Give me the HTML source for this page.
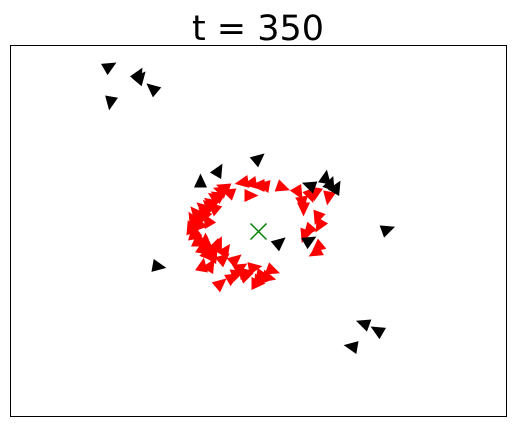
<!DOCTYPE html>
<html><head><meta charset="utf-8"><style>
html,body{margin:0;padding:0;background:#fff;}
svg{display:block;font-family:"DejaVu Sans","Liberation Sans",sans-serif;}
</style></head><body>
<svg id="chart" width="515" height="426">
<text x="258" y="40" text-anchor="middle" font-size="35">t = 350</text>
<rect x="10.5" y="45.5" width="496" height="371" fill="none" stroke="#000" stroke-width="1"/>
<g id="marks"></g>
</svg>
<script>
// positions in plot units (0..496 horizontal, 0..371 vertical from top)
const blackX=[99,128,130,142,100,248,208,190,299,315,320,326,269,299,148,377,353,367,341];
const blackY=[21,29,32,43,57,113,125,136,140,132,138,142,197,195,221,184,278,285,301];
const blackA=[-30,-60,-50,220,100,-40,-60,-90,200,-80,-70,-60,-40,-30,10,-20,200,210,190];
const redX=[232,240,248,253,240,272,288,292,293,305,318,307,298,307,305,213,207,200,192,185,182,180,183,187,192,197,203,213,192,200,210,222,227,235,247,252,262,193,188,197,203,218,195,205,210,204,198,190,186,184,188,196,202,208,215,225,230,236,244,250,258,300,309,294];
const redY=[137,138,140,140,150,142,147,157,163,148,152,172,185,202,207,142,150,157,162,167,173,182,188,195,202,207,210,213,220,220,238,232,228,227,238,230,225,168,178,175,162,147,195,200,145,152,160,170,176,186,192,198,205,198,205,214,222,230,222,235,232,150,180,190];
const redA=[170,170,180,190,0,20,60,80,90,100,100,110,130,140,150,200,210,215,220,230,240,250,260,270,280,290,300,320,280,300,320,330,340,350,0,10,20,230,250,240,220,200,270,290,200,215,225,235,245,255,265,275,285,295,305,320,330,340,350,5,15,70,120,110];
const xs=v=>10.5+v, ys=v=>45.5+v;
const g=document.getElementById('marks');
const NS='http://www.w3.org/2000/svg';
function tri(x,y,a,color,name){
  const p=document.createElementNS(NS,'polygon');
  p.setAttribute('points','8,0 -6,-6.5 -6,6.5');
  p.setAttribute('fill',color);
  p.setAttribute('transform','translate('+xs(x)+','+ys(y)+') rotate('+a+')');
  
  
  g.appendChild(p);
}
for(let i=0;i<redX.length;i++) tri(redX[i],redY[i],redA[i],'#ff0000','red-agent');
for(let i=0;i<blackX.length;i++) tri(blackX[i],blackY[i],blackA[i],'#000000','black-agent');
const cx=248, cy=186;
const t=document.createElementNS(NS,'path');
t.setAttribute('d','M'+(xs(cx)-8)+','+(ys(cy)-8)+'L'+(xs(cx)+8)+','+(ys(cy)+8)+'M'+(xs(cx)+8)+','+(ys(cy)-8)+'L'+(xs(cx)-8)+','+(ys(cy)+8));
t.setAttribute('stroke','#008000');
t.setAttribute('stroke-width','1.5');


g.appendChild(t);
</script>
</body></html>
